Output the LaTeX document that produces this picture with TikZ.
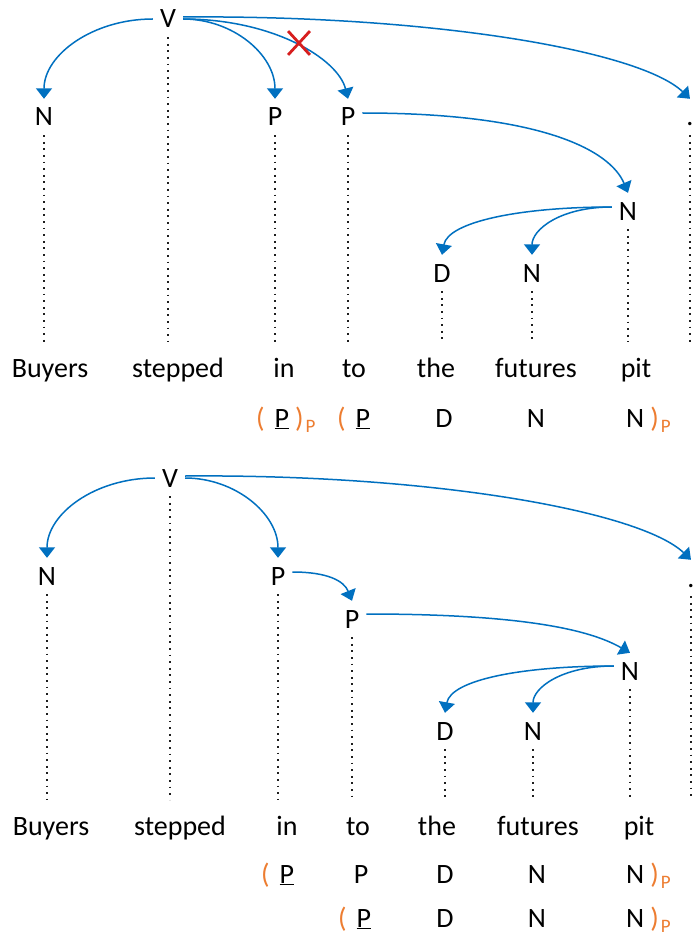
\documentclass[tikz,border=0pt]{standalone}
\usepackage{fontspec}
\setmainfont{Carlito}
\usetikzlibrary{arrows.meta,shapes.misc,calc}
\definecolor{arcblue}{RGB}{0,112,192}
\definecolor{tagorange}{RGB}{237,125,49}
\definecolor{xred}{RGB}{215,30,30}
\definecolor{dotgray}{RGB}{30,30,30}
\newcommand{\tglp}{\textcolor{tagorange}{(}}
\newcommand{\tgrp}{\textcolor{tagorange}{)}}
\newcommand{\tghead}{\underline{P}}
\newcommand{\tgsub}{\raisebox{-5pt}{\fontsize{19}{19}\selectfont\textcolor{tagorange}{P}}}
\begin{document}
\begin{tikzpicture}[x=1pt,y=-1pt,
  lab/.style={font=\fontsize{28}{32}\selectfont, inner xsep=7pt, inner ysep=9pt, text height=18pt, text depth=0pt, anchor=base},
  word/.style={font=\fontsize{28}{32}\selectfont, inner xsep=0pt, inner ysep=16pt, text height=19pt, anchor=base},
  tagtxt/.style={font=\fontsize{28}{32}\selectfont, inner sep=0pt, anchor=base west},
  tagc/.style={font=\fontsize{28}{32}\selectfont, inner sep=0pt, anchor=base},
  arc/.style={draw=arcblue, line width=1.5pt, -{Triangle[width=16pt,length=10.5pt]}},
  dots/.style={draw=dotgray, line width=1.8pt, dash pattern=on 1.8pt off 4.8pt},
]
\fill[white] (0,0) rectangle (693,936);
\useasboundingbox (0,0) rectangle (693,936);

% ---------------- top analysis ----------------
\node[lab] (tV) at (168,28) {V};
\node[lab] (tN1) at (44,126) {N};
\node[lab] (tP1) at (275,126) {P};
\node[lab] (tP2) at (348,126) {P};
\node[lab] (tDot) at (690,126) {.};
\node[lab] (tNp) at (628,220) {N};
\node[lab] (tD) at (442,282) {D};
\node[lab] (tNf) at (532,282) {N};

\node[word] (tw1) at (50,377) {Buyers};
\node[word] (tw2) at (178,377) {stepped};
\node[word] (tw3) at (284,377) {in};
\node[word] (tw4) at (354,377) {to};
\node[word] (tw5) at (436,377) {the};
\node[word] (tw6) at (536,377) {futures};
\node[word] (tw7) at (636,377) {pit};

\node[tagtxt] (tt1) at (256,427) {\tglp\hspace{10pt}\tghead\hspace{6pt}\tgrp\hspace{2pt}\tgsub};
\node[tagtxt] (tt2) at (337,427) {\tglp\hspace{10pt}\tghead};
\node[tagc] (tt3) at (444,427) {D};
\node[tagc] (tt4) at (536,427) {N};
\node[tagtxt] (tt5) at (626,427) {N\hspace{6pt}\tgrp\hspace{2pt}\tgsub};

\foreach \n in {tN1,tV,tP1,tP2,tD,tNf,tNp,tDot}
  \draw[dots] (\n.south) -- (\n.south |- tw1.north);

\draw[arc] (tV.west) .. controls +(-60,0) and +(0,-44) .. (tN1.north);
\draw[arc] (tV.east) .. controls +(50,0) and +(0,-44) .. (tP1.north);
\draw[arc] (tV.east) .. controls +(90,0) and +(-10,-40) .. (tP2.north);
\draw[arc] ($(tV.east)+(0,-2)$) .. controls +(250,-2) and +(-50,-48) .. (tDot.north);
\draw[arc] ($(tP2.east)+(0,-4)$) .. controls +(178,0) and +(-18,-43) .. (tNp.north);
\draw[arc] ($(tNp.west)+(0,-4)$) .. controls +(-92,0) and +(6,-33) .. (tD.north);
\draw[arc] ($(tNp.west)+(0,-4)$) .. controls +(-52,0) and +(0,-25) .. (tNf.north);

\node[cross out, draw=xred, line width=2.8pt, minimum width=19pt, minimum height=21pt, inner sep=0pt] (cross) at (299,43) {};

% ---------------- bottom analysis ----------------
\node[lab] (bV) at (170,487) {V};
\node[lab] (bN1) at (47,585) {N};
\node[lab] (bP1) at (278,585) {P};
\node[lab] (bP2) at (352,628) {P};
\node[lab] (bDot) at (691,587) {.};
\node[lab] (bNp) at (630,680) {N};
\node[lab] (bD) at (445,740) {D};
\node[lab] (bNf) at (533,740) {N};

\node[word] (bw1) at (51,835) {Buyers};
\node[word] (bw2) at (180,835) {stepped};
\node[word] (bw3) at (287,835) {in};
\node[word] (bw4) at (358,835) {to};
\node[word] (bw5) at (437,835) {the};
\node[word] (bw6) at (538,835) {futures};
\node[word] (bw7) at (639,835) {pit};

\node[tagtxt] (ba1) at (261,883) {\tglp\hspace{10pt}\tghead};
\node[tagc] (ba2) at (361,883) {P};
\node[tagc] (ba3) at (445,883) {D};
\node[tagc] (ba4) at (537,883) {N};
\node[tagtxt] (ba5) at (626,883) {N\hspace{6pt}\tgrp\hspace{2pt}\tgsub};

\node[tagtxt] (bb1) at (338,927) {\tglp\hspace{10pt}\tghead};
\node[tagc] (bb2) at (445,927) {D};
\node[tagc] (bb3) at (537,927) {N};
\node[tagtxt] (bb4) at (626,927) {N\hspace{6pt}\tgrp\hspace{2pt}\tgsub};

\foreach \n in {bN1,bV,bP1,bP2,bD,bNf,bNp,bDot}
  \draw[dots] (\n.south) -- (\n.south |- bw1.north);

\draw[arc] (bV.west) .. controls +(-60,0) and +(0,-44) .. (bN1.north);
\draw[arc] (bV.east) .. controls +(50,0) and +(0,-44) .. (bP1.north);
\draw[arc] ($(bV.east)+(0,-2)$) .. controls +(250,-2) and +(-50,-48) .. (bDot.north);
\draw[arc] ($(bP1.east)+(0,-4)$) .. controls +(35,0) and +(-8,-20) .. (bP2.north);
\draw[arc] ($(bP2.east)+(0,-5)$) .. controls +(170,0) and +(-35,-20) .. (bNp.north);
\draw[arc] ($(bNp.west)+(0,-5)$) .. controls +(-92,0) and +(6,-33) .. (bD.north);
\draw[arc] ($(bNp.west)+(0,-5)$) .. controls +(-52,0) and +(0,-25) .. (bNf.north);
\end{tikzpicture}
\end{document}
